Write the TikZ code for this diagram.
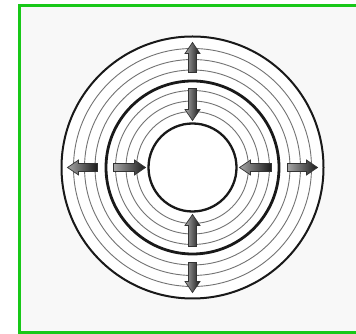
\documentclass[tikz,border=0pt]{standalone}
\usetikzlibrary{calc}
\definecolor{framegreen}{RGB}{24,200,24}
\definecolor{panelbg}{RGB}{248,248,248}
\tikzset{
  thinring/.style={draw=black!55,line width=0.9pt},
  outerring/.style={draw=black!90,line width=2pt},
  midring/.style={draw=black!90,line width=2.8pt},
  innerring/.style={draw=black!90,line width=2.3pt,fill=white},
  arrowsty/.style={left color=black!35,right color=black!90,draw=black!80,line width=0.7pt}
}
\newcommand\radarrow[3]{%
  \begin{scope}[shift={(C)},rotate=#1]
    \pgfmathsetmacro\hb{#3-11}
    \shade[arrowsty] (#2,-4) -- (\hb,-4) -- (\hb,-7.5) -- (#3,0) -- (\hb,7.5) -- (\hb,4) -- (#2,4) -- cycle;
  \end{scope}}
\begin{document}
\begin{tikzpicture}[x=1pt,y=1pt]
\useasboundingbox (0,0) rectangle (356,334);
\clip (0,0) rectangle (356,334);
\fill[white] (0,0) rectangle (356,334);
\draw[framegreen,line width=3pt,fill=panelbg] (19.5,1.5) rectangle (360,328.5);
\coordinate (C) at (192.5,166.5);
\fill[white] (C) circle (131);
\foreach \r in {119,108,97.5,77,66.5,56} \draw[thinring] (C) circle (\r);
\draw[outerring] (C) circle (131);
\draw[midring] (C) circle (86.5);
\draw[innerring] (C) circle (44);
\foreach \a in {0,90,180,270} {
  \radarrow{\a}{95}{125}
  \radarrow{\a+180}{-79}{-47}
}
\end{tikzpicture}
\end{document}
